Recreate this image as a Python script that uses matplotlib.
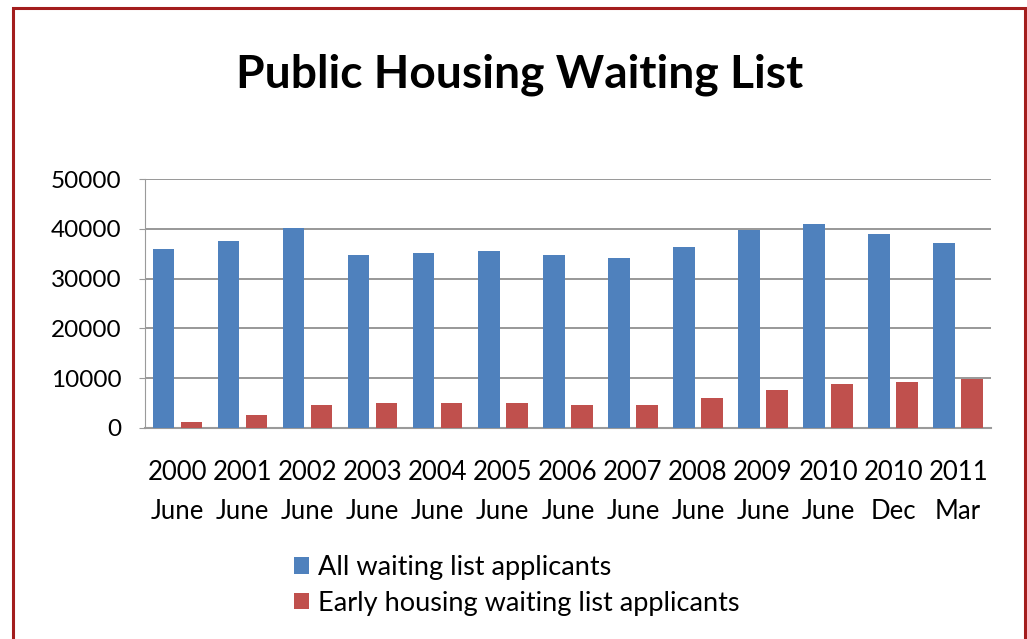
import matplotlib
matplotlib.use("Agg")
import matplotlib.pyplot as plt
from matplotlib.patches import Rectangle
import numpy as np

categories = ["2000\nJune", "2001\nJune", "2002\nJune", "2003\nJune", "2004\nJune",
              "2005\nJune", "2006\nJune", "2007\nJune", "2008\nJune", "2009\nJune",
              "2010\nJune", "2010\nDec", "2011\nMar"]
all_applicants = [35970, 37580, 40200, 34760, 35160, 35560, 34760, 34150, 36370,
                  39800, 41000, 38990, 37180]
early_applicants = [1140, 2550, 4560, 4970, 4970, 4970, 4560, 4560, 5970,
                    7590, 8800, 9200, 9800]
yticks = [0, 10000, 20000, 30000, 40000, 50000]
series_names = ["All waiting list applicants", "Early housing waiting list applicants"]
title = "Public Housing Waiting List"

plt.rcParams['font.family'] = ['Lato', 'DejaVu Sans']

fig = plt.figure(figsize=(10.27, 6.39), dpi=100)
ax = fig.add_axes([145/1027, 1-427.7/639, (990.7-145)/1027, (427.7-179.3)/639])

x = np.arange(len(categories))
w = 0.33
b1 = ax.bar(x - 0.215, all_applicants, w, color="#4F81BD", label=series_names[0], zorder=3)
b2 = ax.bar(x + 0.215, early_applicants, w, color="#C0504D", label=series_names[1], zorder=3)

ax.set_xlim(-0.5, len(categories) - 0.5)
ax.set_ylim(0, 50000)
ax.set_yticks(yticks)
ax.set_yticklabels([str(v) for v in yticks])
ax.set_xticks(x)
ax.set_xticklabels(categories, linespacing=1.7)
ax.yaxis.grid(True, color="#868686", linewidth=1.2, zorder=0)
ax.set_axisbelow(True)
for s in ["top", "right"]:
    ax.spines[s].set_visible(False)
ax.spines["left"].set_color("#9A9A9A")
ax.spines["bottom"].set_color("#9A9A9A")
ax.spines["bottom"].set_linewidth(1.5)
ax.tick_params(axis="y", length=4, color="#9A9A9A", pad=13, labelsize=17.5)
ax.tick_params(axis="x", length=0, pad=23, labelsize=18.5)

fig.text(519.5/1027, 1-75/639, title, ha="center", va="center",
         fontsize=33.2, fontweight="bold")

fig.legend(handles=[b1, b2], labels=series_names, loc="upper left",
           bbox_to_anchor=(294/1027, 1-555/639), frameon=False, fontsize=19.5,
           handlelength=0.55, handleheight=0.55, handletextpad=0.35, labelspacing=0.4,
           borderaxespad=0, borderpad=0)

fig.patches.append(Rectangle((13/1027, -0.01), (1025-13)/1027, 1-8/639 + 0.01,
                             transform=fig.transFigure, fill=False,
                             edgecolor="#A31D1D", linewidth=2.2))

fig.savefig("out.png", dpi=100)
